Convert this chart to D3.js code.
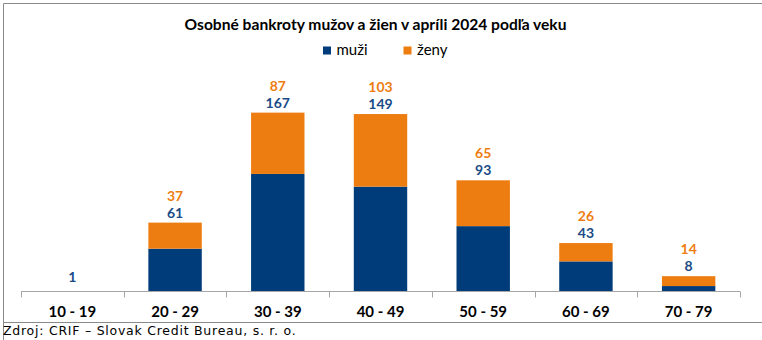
<!DOCTYPE html>
<html><head><meta charset="utf-8">
<script src="https://cdn.jsdelivr.net/npm/d3@7/dist/d3.min.js"></script>
<style>html,body{margin:0;padding:0;background:#fff;}svg{display:block;}</style>
</head><body>
<script>
const categories = ["10 - 19","20 - 29","30 - 39","40 - 49","50 - 59","60 - 69","70 - 79"];
const muzi = [1, 61, 167, 149, 93, 43, 8];
const zeny = [0, 37, 87, 103, 65, 26, 14];
const seriesNames = ["muži","ženy"];
const titleText = "Osobné bankroty mužov a žien v apríli 2024 podľa veku";
const sourceText = "Zdroj: CRIF – Slovak Credit Bureau, s. r. o.";

const W = 762, H = 340;
const navy = "#003B7A", orange = "#EE7D11";
const svg = d3.select("body").append("svg").attr("width", W).attr("height", H);
const font = "Lato, 'Open Sans', sans-serif";

// border
svg.append("path").attr("d", "M3.5,340 V3.5 H762 M3.5,322.5 H762")
  .attr("fill","none").attr("stroke","#8a8a8a").attr("stroke-width",1);

const x = d3.scaleBand().domain(categories).range([21, 740]).paddingInner(0).paddingOuter(0);
const y = d3.scaleLinear().domain([0, 300]).range([291.7, 291.7 - 300*0.705]);
const bw = x.bandwidth()*0.52;

const data = categories.map((c,i)=>({c, m: muzi[i], z: zeny[i]}));
const g = svg.append("g");
data.forEach(d=>{
  const cx = x(d.c) + x.bandwidth()/2;
  g.append("rect").attr("x", cx-bw/2).attr("width", bw)
    .attr("y", y(d.m)).attr("height", y(0)-y(d.m)).attr("fill", navy);
  if (d.z>0) g.append("rect").attr("x", cx-bw/2).attr("width", bw)
    .attr("y", y(d.m+d.z)).attr("height", y(d.m)-y(d.m+d.z)).attr("fill", orange);
  const top = y(d.m+d.z);
  const off = d.z>0 ? 5 : 9;
  g.append("text").attr("x", cx).attr("y", top-off).attr("text-anchor","middle")
    .attr("font-family", font).attr("font-weight","bold").attr("font-size", 14)
    .attr("fill", "#1A4A86").text(d.m);
  if (d.z>0) g.append("text").attr("x", cx).attr("y", top-22).attr("text-anchor","middle")
    .attr("font-family", font).attr("font-weight","bold").attr("font-size", 14)
    .attr("fill", orange).text(d.z);
});

// axis
const ax = svg.append("g").attr("transform","translate(0,291.5)");
ax.append("line").attr("x1",21).attr("x2",740).attr("stroke","#a6a6a6");
const bounds = categories.map(c=>x(c)).concat([740]);
ax.selectAll("line.t").data(bounds).enter().append("line").attr("class","t")
  .attr("x1",d=>Math.round(d)+0.5).attr("x2",d=>Math.round(d)+0.5).attr("y1",0).attr("y2",6)
  .attr("stroke","#a6a6a6");
svg.selectAll("text.cat").data(categories).enter().append("text").attr("class","cat")
  .attr("x", d=>x(d)+x.bandwidth()/2).attr("y", 317.3).attr("text-anchor","middle")
  .attr("font-family", font).attr("font-weight","bold").attr("font-size",15).attr("fill","#000").text(d=>d);

// title
svg.append("text").attr("x", 375.5).attr("y", 29.5).attr("text-anchor","middle")
  .attr("font-family", font).attr("font-weight","bold").attr("font-size",15.6).attr("fill","#000").text(titleText);

// legend
const leg = [{n: seriesNames[0], c: navy, x: 323}, {n: seriesNames[1], c: orange, x: 403.5}];
leg.forEach(l=>{
  svg.append("rect").attr("x", l.x).attr("y", 46.5).attr("width",8).attr("height",8).attr("fill", l.c);
  svg.append("text").attr("x", l.x+13.5).attr("y", 55).attr("font-family", font)
    .attr("font-size",15).attr("fill","#000").text(l.n);
});

// source
svg.append("text").attr("x", 3).attr("y", 334.5).attr("font-family","'DejaVu Sans', Verdana, sans-serif")
  .attr("font-size",12.5).attr("letter-spacing",0.75).attr("fill","#000").text(sourceText);
</script>
</body></html>
